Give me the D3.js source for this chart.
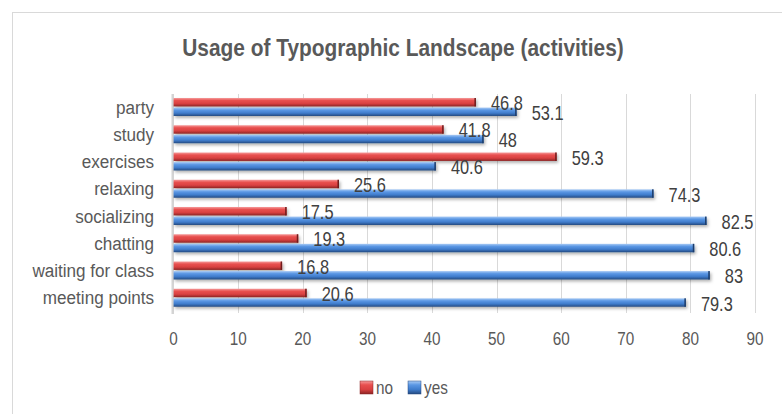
<!DOCTYPE html>
<html>
<head>
<meta charset="utf-8">
<script src="https://cdn.jsdelivr.net/npm/d3@7"></script>
<style>
  body { margin: 0; background: #fff; }
  svg { display: block; }
  text { font-family: "Liberation Sans", Arial, sans-serif; }
</style>
</head>
<body>
<div id="chart"></div>
<script>
// data
const categories = ['party', 'study', 'exercises', 'relaxing', 'socializing', 'chatting', 'waiting for class', 'meeting points'];
const noValues  = [46.8, 41.8, 59.3, 25.6, 17.5, 19.3, 16.8, 20.6];
const yesValues = [53.1, 48, 40.6, 74.3, 82.5, 80.6, 83, 79.3];
const seriesNames = ['no', 'yes'];
const xTicks = [0, 10, 20, 30, 40, 50, 60, 70, 80, 90];

const W = 782, H = 414;
const textColor = '#595959';
const svg = d3.select('#chart').append('svg').attr('width', W).attr('height', H);

// the original uses a narrow face; squeeze the regular one horizontally
const place = (fx, fy, sx) => (d, i) => `translate(${fx(d, i)},${fy(d, i)}) scale(${sx},1)`;

const defs = svg.append('defs');
const grads = {
  no:  ['#f59a9a', '#e8504f', '#d94141', '#8c2424'],
  yes: ['#a9cbf5', '#5b97e4', '#3f7ccc', '#244a80']
};
Object.entries(grads).forEach(([k, c]) => {
  const g = defs.append('linearGradient').attr('id', 'g-' + k).attr('x1', 0).attr('y1', 0).attr('x2', 0).attr('y2', 1);
  g.append('stop').attr('offset', '0%').attr('stop-color', c[0]);
  g.append('stop').attr('offset', '30%').attr('stop-color', c[1]);
  g.append('stop').attr('offset', '65%').attr('stop-color', c[2]);
  g.append('stop').attr('offset', '100%').attr('stop-color', c[3]);
});
defs.append('filter').attr('id', 'shadow').attr('x', '-5%').attr('y', '-50%').attr('width', '115%').attr('height', '250%')
  .append('feDropShadow').attr('dx', 1.5).attr('dy', 2).attr('stdDeviation', 1.5).attr('flood-color', '#000').attr('flood-opacity', 0.3);

// chart frame
svg.append('rect').attr('x', 12.5).attr('y', 12.5).attr('width', W).attr('height', H)
  .attr('fill', '#fff').attr('stroke', '#d9d9d9');

svg.append('text').attr('transform', `translate(403,56) scale(0.87,1)`).attr('text-anchor', 'middle')
  .attr('font-size', 24).attr('font-weight', 'bold').attr('fill', textColor)
  .text('Usage of Typographic Landscape (activities)');

const x = d3.scaleLinear().domain([0, 90]).range([173.6, 755]);
const y = d3.scaleBand().domain(categories).range([94, 312]);
const sub = d3.scaleBand().domain(seriesNames).range([4, 22]).paddingInner(0.12);

// gridlines
svg.append('g').selectAll('line').data(xTicks.slice(1)).join('line')
  .attr('x1', d => Math.round(x(d)) + 0.5).attr('x2', d => Math.round(x(d)) + 0.5)
  .attr('y1', 94).attr('y2', 313).attr('stroke', '#d9d9d9');
// left wall
svg.append('rect').attr('x', 171.5).attr('y', 94).attr('width', 2.5).attr('height', 220).attr('fill', '#d4d4d4');

// tick labels
svg.append('g').selectAll('text').data(xTicks).join('text')
  .attr('transform', place(d => x(d), () => 345, 0.85)).attr('text-anchor', 'middle')
  .attr('font-size', 18).attr('fill', textColor).text(d => d);

// category labels
svg.append('g').selectAll('text').data(categories).join('text')
  .attr('transform', place(() => 154, d => y(d) + y.bandwidth() / 2 + 6, 0.9)).attr('text-anchor', 'end')
  .attr('font-size', 19).attr('fill', textColor).text(d => d);

const rows = categories.map((c, i) => ({ cat: c, no: noValues[i], yes: yesValues[i] }));

seriesNames.forEach(s => {
  const g = svg.append('g');
  const bars = g.selectAll('g').data(rows).join('g')
    .attr('transform', d => `translate(0,${y(d.cat) + sub(s)})`);
  bars.append('rect').attr('x', x(0)).attr('y', 0)
    .attr('width', d => x(d[s]) - x(0)).attr('height', sub.bandwidth())
    .attr('fill', `url(#g-${s})`).attr('filter', 'url(#shadow)');
  // darker end cap
  bars.append('rect').attr('x', d => x(d[s]) - 1.5).attr('y', 0)
    .attr('width', 1.5).attr('height', sub.bandwidth())
    .attr('fill', s === 'no' ? '#6e1c1c' : '#1d3c69');
});

// value labels
seriesNames.forEach(s => {
  svg.append('g').selectAll('text').data(rows).join('text')
    .attr('transform', place(d => x(d[s]) + 15, d => y(d.cat) + sub(s) + sub.bandwidth() / 2 + 8, 0.82))
    .attr('font-size', 20).attr('fill', '#404040').text(d => d[s]);
});

// legend
const legend = [{ name: 'no', x: 360 }, { name: 'yes', x: 408 }];
const lg = svg.append('g').selectAll('g').data(legend).join('g')
  .attr('transform', d => `translate(${d.x},381)`);
lg.append('rect').attr('width', 13).attr('height', 13).attr('fill', d => `url(#g-${d.name})`)
  .attr('stroke', d => d.name === 'no' ? '#8c2424' : '#244a80').attr('stroke-width', 0.5);
lg.append('text').attr('transform', 'translate(16,12.5) scale(0.85,1)').attr('font-size', 18).attr('fill', textColor).text(d => d.name);
</script>
</body>
</html>
